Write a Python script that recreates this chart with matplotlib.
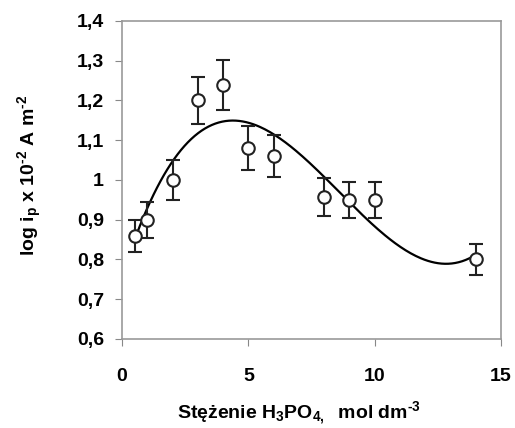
import numpy as np
import matplotlib
matplotlib.use("Agg")
import matplotlib.pyplot as plt

plt.rcParams['font.family'] = ['Liberation Sans', 'DejaVu Sans']
plt.rcParams['font.weight'] = 'bold'
plt.rcParams['mathtext.default'] = 'regular'

# stezenie H3PO4 i log ip
stezenie = [0.5, 1, 2, 3, 4, 5, 6, 8, 9, 10, 14]
log_ip = [0.86, 0.90, 1.00, 1.20, 1.24, 1.08, 1.06, 0.957, 0.95, 0.95, 0.80]
blad = [0.04, 0.045, 0.05, 0.06, 0.063, 0.055, 0.053, 0.048, 0.045, 0.045, 0.04]

x_ticks = [0, 5, 10, 15]
y_ticks = [0.6, 0.7, 0.8, 0.9, 1.0, 1.1, 1.2, 1.3, 1.4]
y_labels = ['0,6', '0,7', '0,8', '0,9', '1', '1,1', '1,2', '1,3', '1,4']

# linia trendu - wielomian 3 stopnia jak w excelu
wsp = np.polyfit(stezenie, log_ip, 3)
xx = np.linspace(min(stezenie), max(stezenie), 200)
yy = np.polyval(wsp, xx)

fig = plt.figure(figsize=(5.15, 4.28), dpi=100)
ax = fig.add_axes([0.237, 0.208, 0.736, 0.743])

ax.plot(xx, yy, color='black', linewidth=1.6)
ax.errorbar(stezenie, log_ip, yerr=blad, fmt='o', color='#222222', ecolor='#222222',
            markerfacecolor='white', markeredgecolor='#222222', markersize=9,
            markeredgewidth=1.5, elinewidth=1.5, capsize=5, capthick=1.5)

ax.set_xlim(0, 15)
ax.set_ylim(0.6, 1.4)
ax.set_xticks(x_ticks)
ax.set_yticks(y_ticks)
ax.set_yticklabels(y_labels)
ax.tick_params(labelsize=14, direction='out', length=5, color='#888888')
ax.tick_params(axis='x', pad=16)
ax.tick_params(axis='y', pad=8)
for s in ax.spines.values():
    s.set_color('#999999')
    s.set_linewidth(1.2)

ax.set_xlabel('Stężenie H$_3$PO$_{4,}$  mol dm$^{\u2010 3}$', fontsize=14, fontweight='bold')
ax.set_ylabel('log i$_p$ x 10$^{\u2010 2}$ A m$^{\u2010 2}$', fontsize=14, fontweight='bold')
ax.xaxis.set_label_coords(0.467, -0.19)
ax.yaxis.set_label_coords(-0.205, 0.514)

fig.savefig('out.png', dpi=100, facecolor='white')
